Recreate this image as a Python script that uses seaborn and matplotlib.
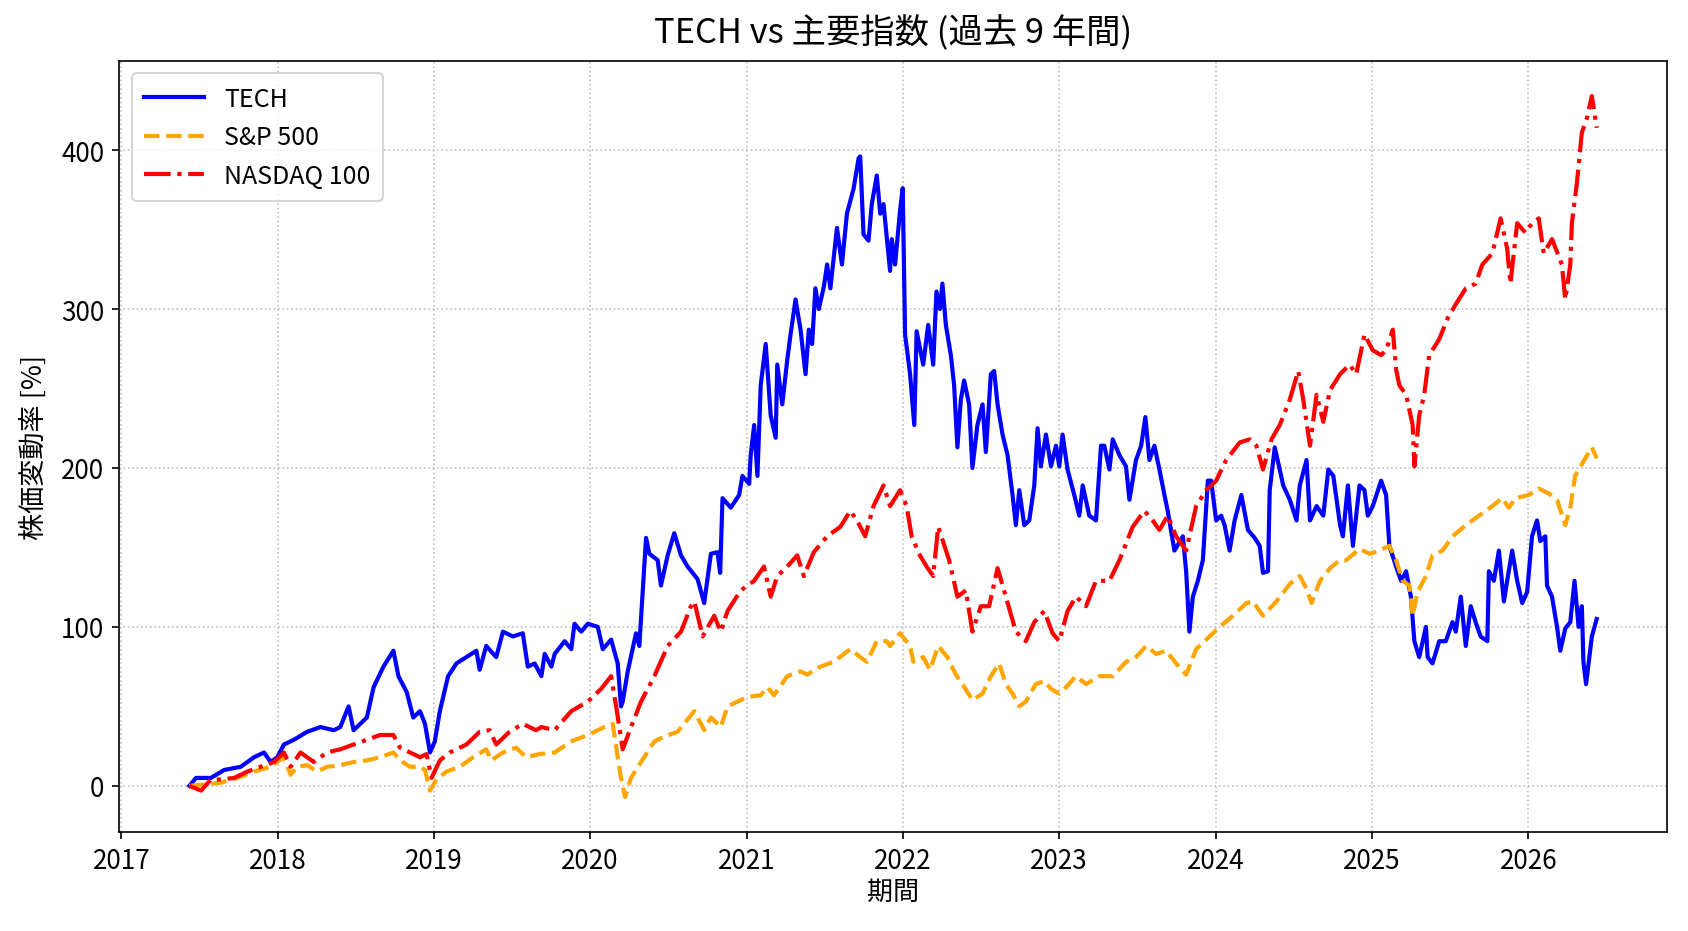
import numpy as np
import pandas as pd
import matplotlib
matplotlib.use("Agg")
import matplotlib.pyplot as plt
from matplotlib import font_manager
import seaborn as sns

# ---- data (decimal year, % change) ----
tech_t = [2017.435, 2017.478, 2017.573, 2017.658, 2017.764, 2017.849, 2017.913, 2017.955, 2017.998, 2018.040,
          2018.104, 2018.189, 2018.274, 2018.359, 2018.401, 2018.454, 2018.486, 2018.571, 2018.614, 2018.677,
          2018.741, 2018.773, 2018.826, 2018.868, 2018.911, 2018.943, 2018.975, 2019.006, 2019.038, 2019.091,
          2019.144, 2019.208, 2019.272, 2019.293, 2019.335, 2019.399, 2019.442, 2019.505, 2019.569, 2019.601,
          2019.645, 2019.688, 2019.709, 2019.752, 2019.773, 2019.837, 2019.879, 2019.900, 2019.943, 2019.985,
          2020.049, 2020.081, 2020.134, 2020.176, 2020.197, 2020.208, 2020.240, 2020.293, 2020.314, 2020.357,
          2020.378, 2020.431, 2020.452, 2020.495, 2020.537, 2020.580, 2020.622, 2020.686, 2020.728, 2020.771,
          2020.813, 2020.830, 2020.845, 2020.898, 2020.951, 2020.972, 2021.015, 2021.025, 2021.047, 2021.068,
          2021.089, 2021.121, 2021.153, 2021.185, 2021.195, 2021.227, 2021.259, 2021.280, 2021.312, 2021.344,
          2021.376, 2021.397, 2021.418, 2021.439, 2021.461, 2021.493, 2021.514, 2021.535, 2021.577, 2021.609,
          2021.641, 2021.684, 2021.716, 2021.726, 2021.747, 2021.779, 2021.800, 2021.832, 2021.854, 2021.875,
          2021.917, 2021.928, 2021.949, 2021.981, 2021.998, 2022.013, 2022.045, 2022.072, 2022.087, 2022.129,
          2022.161, 2022.193, 2022.214, 2022.236, 2022.252, 2022.274, 2022.306, 2022.327, 2022.348, 2022.370,
          2022.391, 2022.423, 2022.444, 2022.476, 2022.509, 2022.530, 2022.562, 2022.583, 2022.605, 2022.637,
          2022.669, 2022.701, 2022.722, 2022.744, 2022.776, 2022.808, 2022.840, 2022.861, 2022.882, 2022.915,
          2022.947, 2022.979, 2023.000, 2023.021, 2023.053, 2023.096, 2023.128, 2023.150, 2023.192, 2023.235,
          2023.267, 2023.288, 2023.321, 2023.342, 2023.385, 2023.427, 2023.449, 2023.491, 2023.524, 2023.551,
          2023.577, 2023.609, 2023.641, 2023.673, 2023.694, 2023.737, 2023.791, 2023.812, 2023.833, 2023.855,
          2023.887, 2023.919, 2023.951, 2023.972, 2024.004, 2024.036, 2024.058, 2024.090, 2024.122, 2024.165,
          2024.207, 2024.250, 2024.282, 2024.303, 2024.335, 2024.346, 2024.378, 2024.410, 2024.432, 2024.474,
          2024.517, 2024.538, 2024.581, 2024.603, 2024.645, 2024.688, 2024.720, 2024.752, 2024.795, 2024.813,
          2024.845, 2024.877, 2024.919, 2024.951, 2024.972, 2025.004, 2025.057, 2025.089, 2025.110, 2025.153,
          2025.185, 2025.217, 2025.248, 2025.270, 2025.301, 2025.344, 2025.355, 2025.386, 2025.429, 2025.471,
          2025.514, 2025.535, 2025.567, 2025.599, 2025.631, 2025.662, 2025.694, 2025.737, 2025.747, 2025.779,
          2025.811, 2025.843, 2025.864, 2025.896, 2025.928, 2025.960, 2025.992, 2026.023, 2026.055, 2026.076,
          2026.108, 2026.119, 2026.151, 2026.183, 2026.204, 2026.236, 2026.268, 2026.295, 2026.321, 2026.342,
          2026.352, 2026.369, 2026.406, 2026.437]
tech_v = [0, 5, 5, 10, 12, 18, 21, 15, 18, 26,
          29, 34, 37, 35, 37, 50, 35, 43, 62, 75,
          85, 69, 59, 43, 47, 39, 21, 28, 47, 69,
          77, 81, 85, 73, 88, 81, 97, 94, 96, 75,
          77, 69, 83, 75, 83, 91, 86, 102, 97, 102,
          100, 86, 92, 77, 50, 53, 72, 96, 88, 156,
          146, 142, 126, 145, 159, 145, 138, 130, 115, 146,
          147, 134, 181, 175, 183, 195, 190, 208, 227, 195,
          252, 278, 233, 219, 265, 240, 268, 284, 306, 287,
          259, 287, 278, 313, 300, 314, 328, 313, 351, 328,
          360, 376, 395, 396, 347, 343, 366, 384, 360, 366,
          324, 344, 328, 362, 376, 284, 259, 227, 286, 265,
          290, 265, 311, 300, 316, 290, 271, 252, 213, 243,
          255, 240, 200, 227, 240, 210, 259, 261, 240, 221,
          208, 183, 164, 186, 164, 167, 189, 225, 201, 221,
          201, 214, 201, 221, 199, 183, 170, 189, 170, 167,
          214, 214, 199, 218, 208, 201, 180, 205, 214, 232,
          205, 214, 199, 183, 173, 148, 157, 135, 97, 119,
          129, 142, 192, 192, 167, 170, 164, 148, 167, 183,
          161, 156, 151, 134, 135, 186, 213, 199, 189, 180,
          167, 189, 205, 167, 176, 170, 199, 195, 164, 157,
          189, 151, 189, 186, 170, 176, 192, 183, 151, 138,
          129, 135, 119, 91, 81, 100, 81, 77, 91, 91,
          103, 97, 119, 88, 113, 103, 94, 91, 135, 129,
          148, 116, 129, 148, 129, 115, 122, 157, 167, 154,
          157, 126, 119, 100, 85, 99, 103, 129, 100, 113,
          78, 64, 94, 105]

sp500_t = [2017.435, 2017.552, 2017.637, 2017.743, 2017.849, 2017.955, 2018.040, 2018.083, 2018.125, 2018.189,
           2018.253, 2018.316, 2018.401, 2018.486, 2018.571, 2018.656, 2018.741, 2018.783, 2018.847, 2018.911,
           2018.943, 2018.975, 2019.017, 2019.081, 2019.166, 2019.251, 2019.335, 2019.367, 2019.442, 2019.527,
           2019.590, 2019.675, 2019.773, 2019.879, 2019.985, 2020.091, 2020.144, 2020.176, 2020.197, 2020.223,
           2020.261, 2020.325, 2020.410, 2020.473, 2020.558, 2020.665, 2020.728, 2020.771, 2020.834, 2020.877,
           2021.004, 2021.089, 2021.132, 2021.174, 2021.259, 2021.344, 2021.386, 2021.471, 2021.556, 2021.662,
           2021.726, 2021.769, 2021.832, 2021.896, 2021.917, 2021.981, 2022.045, 2022.066, 2022.129, 2022.172,
           2022.225, 2022.284, 2022.338, 2022.380, 2022.444, 2022.509, 2022.562, 2022.615, 2022.658, 2022.701,
           2022.744, 2022.786, 2022.850, 2022.904, 2022.947, 2023.000, 2023.043, 2023.107, 2023.171, 2023.256,
           2023.342, 2023.427, 2023.491, 2023.556, 2023.620, 2023.684, 2023.748, 2023.812, 2023.876, 2023.962,
           2024.026, 2024.111, 2024.197, 2024.239, 2024.303, 2024.389, 2024.474, 2024.538, 2024.581, 2024.613,
           2024.667, 2024.731, 2024.795, 2024.834, 2024.919, 2024.983, 2025.047, 2025.110, 2025.153, 2025.195,
           2025.238, 2025.259, 2025.291, 2025.344, 2025.386, 2025.450, 2025.514, 2025.599, 2025.684, 2025.769,
           2025.832, 2025.875, 2025.917, 2026.002, 2026.066, 2026.130, 2026.183, 2026.236, 2026.268, 2026.299,
           2026.363, 2026.406, 2026.437]
sp500_v = [0, 1, 2, 5, 9, 12, 18, 7, 12, 13,
           9, 12, 13, 15, 16, 18, 21, 16, 12, 12,
           10, -3, 4, 9, 12, 18, 23, 16, 21, 24,
           18, 20, 21, 28, 32, 37, 39, 18, 5, -7,
           5, 15, 28, 31, 34, 47, 35, 43, 37, 50,
           56, 57, 62, 57, 69, 72, 70, 75, 78, 86,
           81, 78, 91, 91, 88, 96, 88, 78, 81, 73,
           88, 81, 70, 64, 54, 58, 69, 77, 64, 58,
           50, 53, 64, 66, 61, 58, 62, 69, 64, 69,
           69, 78, 81, 88, 83, 85, 77, 70, 86, 94,
           100, 107, 115, 116, 107, 116, 127, 132, 124, 115,
           129, 137, 142, 142, 149, 146, 148, 151, 142, 129,
           126, 107, 122, 132, 145, 148, 157, 164, 170, 176,
           181, 175, 181, 183, 187, 184, 180, 164, 175, 195,
           206, 213, 206]

ndx_t = [2017.435, 2017.510, 2017.573, 2017.637, 2017.722, 2017.807, 2017.892, 2017.977, 2018.040, 2018.083,
         2018.146, 2018.231, 2018.316, 2018.401, 2018.486, 2018.571, 2018.656, 2018.741, 2018.783, 2018.847,
         2018.911, 2018.953, 2018.985, 2019.038, 2019.102, 2019.208, 2019.293, 2019.357, 2019.399, 2019.484,
         2019.569, 2019.654, 2019.688, 2019.773, 2019.879, 2019.985, 2020.070, 2020.134, 2020.166, 2020.208,
         2020.261, 2020.325, 2020.410, 2020.495, 2020.580, 2020.643, 2020.665, 2020.718, 2020.792, 2020.834,
         2020.877, 2020.962, 2021.047, 2021.110, 2021.153, 2021.195, 2021.259, 2021.323, 2021.365, 2021.429,
         2021.514, 2021.599, 2021.662, 2021.705, 2021.758, 2021.811, 2021.875, 2021.917, 2021.981, 2022.023,
         2022.055, 2022.108, 2022.151, 2022.193, 2022.225, 2022.295, 2022.348, 2022.402, 2022.444, 2022.498,
         2022.551, 2022.605, 2022.658, 2022.722, 2022.786, 2022.840, 2022.904, 2022.957, 2023.000, 2023.053,
         2023.107, 2023.171, 2023.235, 2023.321, 2023.385, 2023.470, 2023.545, 2023.598, 2023.641, 2023.694,
         2023.748, 2023.812, 2023.876, 2023.940, 2024.004, 2024.068, 2024.154, 2024.218, 2024.261, 2024.303,
         2024.357, 2024.410, 2024.474, 2024.528, 2024.560, 2024.603, 2024.645, 2024.688, 2024.731, 2024.795,
         2024.856, 2024.898, 2024.951, 2025.004, 2025.057, 2025.089, 2025.132, 2025.153, 2025.174, 2025.217,
         2025.259, 2025.270, 2025.301, 2025.333, 2025.365, 2025.429, 2025.482, 2025.535, 2025.599, 2025.662,
         2025.705, 2025.769, 2025.822, 2025.864, 2025.885, 2025.928, 2025.981, 2026.023, 2026.066, 2026.098,
         2026.151, 2026.214, 2026.236, 2026.268, 2026.278, 2026.310, 2026.342, 2026.374, 2026.406, 2026.437]
ndx_v = [0, -3, 4, 4, 5, 9, 12, 15, 21, 12,
         21, 15, 21, 23, 26, 29, 32, 32, 24, 21,
         18, 20, 5, 16, 21, 26, 34, 35, 26, 34,
         39, 35, 37, 35, 47, 53, 61, 69, 50, 23,
         37, 53, 69, 88, 97, 113, 116, 94, 107, 97,
         110, 123, 129, 138, 119, 132, 138, 145, 132, 147,
         157, 163, 173, 167, 157, 176, 189, 176, 186, 176,
         157, 145, 138, 132, 163, 142, 119, 123, 97, 113,
         113, 137, 119, 97, 91, 103, 110, 96, 91, 110,
         119, 113, 129, 129, 142, 163, 173, 167, 161, 170,
         157, 148, 176, 186, 192, 205, 216, 218, 214, 199,
         218, 227, 243, 261, 243, 214, 246, 229, 249, 259,
         265, 259, 284, 274, 271, 274, 287, 262, 252, 246,
         227, 201, 233, 246, 271, 281, 294, 303, 313, 316,
         328, 335, 357, 338, 316, 354, 348, 354, 357, 335,
         344, 328, 306, 328, 354, 379, 411, 420, 434, 414]

series_names = ["TECH", "S&P 500", "NASDAQ 100"]
year_ticks = list(range(2017, 2027))


def to_dates(dec_years):
    out = []
    for y in dec_years:
        yr = int(np.floor(y))
        start = pd.Timestamp(year=yr, month=1, day=1)
        days = (pd.Timestamp(year=yr + 1, month=1, day=1) - start).days
        out.append(start + pd.Timedelta(days=(y - yr) * days))
    return out


frames = []
for name, t, v in zip(series_names, [tech_t, sp500_t, ndx_t], [tech_v, sp500_v, ndx_v]):
    frames.append(pd.DataFrame({"date": to_dates(t), "value": v, "series": name}))
df = pd.concat(frames, ignore_index=True)

installed = {f.name for f in font_manager.fontManager.ttflist}
fams = [f for f in ['Noto Sans Mono CJK JP', 'Noto Sans CJK JP'] if f in installed] + ['DejaVu Sans']
plt.rcParams['font.family'] = fams

fig = plt.figure(figsize=(1688 / 150, 932 / 150), dpi=150)
ax = fig.add_axes([0.0705, 0.1062, 0.9171, 0.8273])

styles = {"TECH": ("blue", "-"), "S&P 500": ("orange", "--"), "NASDAQ 100": ("red", "-.")}
for name in series_names:
    sub = df[df["series"] == name]
    c, ls = styles[name]
    sns.lineplot(data=sub, x="date", y="value", ax=ax, color=c, linestyle=ls,
                 linewidth=2.0, label=name, estimator=None, sort=False)

ax.set_xticks([pd.Timestamp(year=y, month=1, day=1) for y in year_ticks])
ax.set_xticklabels([str(y) for y in year_ticks])
ax.margins(x=0.05, y=0.05)

ax.grid(True, linestyle=':', color='#b0b0b0', alpha=0.8)
ax.set_title("TECH vs 主要指数 (過去 9 年間)", fontsize=16.5, pad=9)
ax.set_xlabel("期間", fontsize=12.5, labelpad=2)
ax.set_ylabel("株価変動率 [%]", fontsize=13, labelpad=6)
ax.tick_params(labelsize=12.5)
ax.legend(loc="upper left", fontsize=12, handlelength=2.4, borderpad=0.5)

fig.savefig("out.png", dpi=150)
